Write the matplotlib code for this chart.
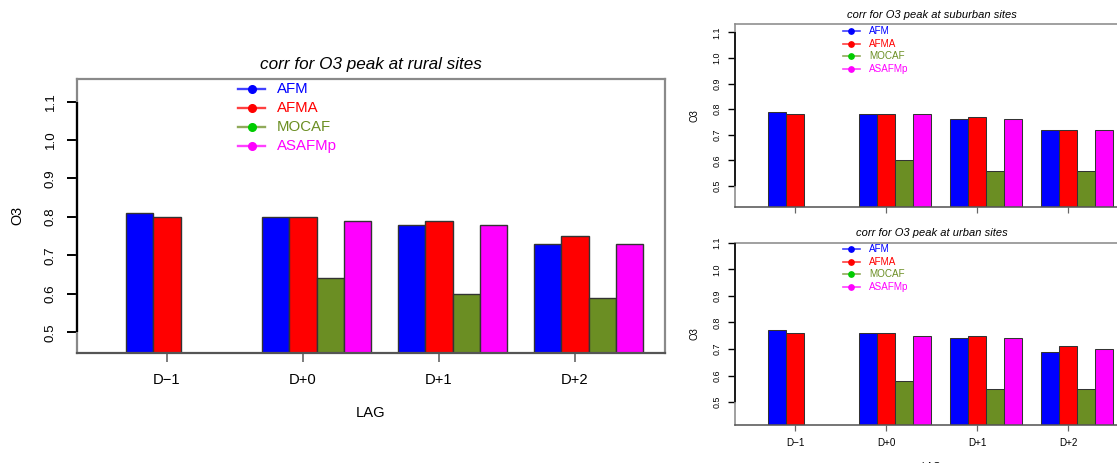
import numpy as np
import matplotlib
matplotlib.use("Agg")
import matplotlib.pyplot as plt
from matplotlib.lines import Line2D

plt.rcParams['font.family'] = ['Liberation Sans', 'DejaVu Sans']

# ---- data -------------------------------------------------------------
lags = ["D\u22121", "D+0", "D+1", "D+2"]
models = ["AFM", "AFMA", "MOCAF", "ASAFMp"]
bar_colors = ["#0000FF", "#FF0000", "#6B8E23", "#FF00FF"]
text_colors = ["#0000FF", "#FF0000", "#6B8E23", "#FF00FF"]
marker_colors = ["#0000FF", "#FF0000", "#00CC00", "#FF00FF"]

rural_afm = [0.81, 0.80, 0.78, 0.73]
rural_afma = [0.80, 0.80, 0.79, 0.75]
rural_mocaf = [np.nan, 0.64, 0.60, 0.59]
rural_asafmp = [np.nan, 0.79, 0.78, 0.73]

suburban_afm = [0.79, 0.78, 0.76, 0.72]
suburban_afma = [0.78, 0.78, 0.77, 0.72]
suburban_mocaf = [np.nan, 0.60, 0.56, 0.56]
suburban_asafmp = [np.nan, 0.78, 0.76, 0.72]

urban_afm = [0.77, 0.76, 0.74, 0.69]
urban_afma = [0.76, 0.76, 0.75, 0.71]
urban_mocaf = [np.nan, 0.58, 0.55, 0.55]
urban_asafmp = [np.nan, 0.75, 0.74, 0.70]

y_ticks = [0.5, 0.6, 0.7, 0.8, 0.9, 1.0, 1.1]

W, H = 1117, 463
fig = plt.figure(figsize=(W / 100, H / 100), dpi=100)


def fx(px):
    return px / W


def fy(py):
    return 1 - py / H


def panel(rect, series, ylim, title, s, title_y, legend_x, legend_rows,
          ylab_x, xlab_y=None, show_xlabels=True, title_size=12.3,
          legend_size=10.8):
    left, top, right, bottom = rect
    ax = fig.add_axes([fx(left), fy(bottom), fx(right - left), (bottom - top) / H])
    ax.set_xlim(-0.8, 20.8)
    ax.set_ylim(*ylim)

    # grouped bars: four per lag, one empty slot between groups
    for si, vals in enumerate(series):
        for gi, v in enumerate(vals):
            if np.isnan(v):
                continue
            ax.bar(1 + 5 * gi + si, v - ylim[0], bottom=ylim[0], width=1.0,
                   align='edge', color=bar_colors[si], edgecolor='#333333',
                   linewidth=0.8 * s + 0.2, zorder=2)

    for sp in ax.spines.values():
        sp.set_color('#8a8a8a')
        sp.set_linewidth(1.4 * s + 0.2)
    ax.spines['bottom'].set_color('#555555')
    ax.spines['left'].set_color('#888888')

    # y axis line spanning the tick range
    ax.plot([0, 0], [y_ticks[0], y_ticks[-1]], color='black',
            lw=1.3 * s + 0.3, transform=ax.get_yaxis_transform(),
            clip_on=False, zorder=5, solid_capstyle='butt')

    ax.set_yticks(y_ticks)
    ax.set_yticklabels([f"{t:.1f}" for t in y_ticks], rotation=90, va='center')
    ax.tick_params(axis='y', length=7.2 * s, width=1.2 * s + 0.2, color='black',
                   pad=7.5 * s, labelsize=9.6 * s)

    ax.set_xticks([2.5 + 5 * g for g in range(len(lags))])
    ax.set_xticklabels(lags if show_xlabels else [""] * len(lags))
    ax.tick_params(axis='x', length=6.5 * s, width=1.0 * s + 0.2, color='#666666',
                   pad=8.0 * s, labelsize=10.6 * s)

    cx = (left + right) / 2
    fig.text(fx(cx), fy(title_y), title, ha='center', va='center',
             style='italic', fontsize=title_size * s)
    fig.text(fx(ylab_x), fy((top + bottom) / 2), "O3", rotation=90,
             ha='center', va='center', fontsize=10.4 * s)
    if xlab_y is not None:
        fig.text(fx(cx), fy(xlab_y), "LAG", ha='center', va='center',
                 fontsize=10.6 * s)

    # legend: line with dot, coloured label
    x0, x1, xt = legend_x
    for i, name in enumerate(models):
        yy = fy(legend_rows[i])
        fig.add_artist(Line2D([fx(x0), fx(x1)], [yy, yy], color=bar_colors[i],
                              lw=1.5 * s + 0.2, alpha=0.75))
        fig.add_artist(Line2D([fx((x0 + x1) / 2)], [yy], marker='o',
                              markersize=5.0 * s + 0.5, color=marker_colors[i],
                              markeredgecolor=marker_colors[i], lw=0))
        fig.text(fx(xt), yy, name, color=text_colors[i], ha='left',
                 va='center', fontsize=legend_size * s)
    return ax


# rural sites (large panel)
panel((77.3, 78.5, 664.7, 352.7),
      [rural_afm, rural_afma, rural_mocaf, rural_asafmp],
      (0.447, 1.160), "corr for O3 peak at rural sites", 1.0,
      title_y=64, legend_x=(238, 265, 277),
      legend_rows=(89, 107.7, 126.7, 145.7), ylab_x=17, xlab_y=413)

# suburban sites
panel((735, 23.7, 1128, 206.7),
      [suburban_afm, suburban_afma, suburban_mocaf, suburban_asafmp],
      (0.419, 1.134), "corr for O3 peak at suburban sites", 0.67,
      title_y=15, legend_x=(842.7, 860, 869.3),
      legend_rows=(31, 43.7, 56.3, 69), ylab_x=695, show_xlabels=False,
      title_size=12.0, legend_size=10.6)

# urban sites
panel((735, 242.7, 1128, 424.7),
      [urban_afm, urban_afma, urban_mocaf, urban_asafmp],
      (0.415, 1.100), "corr for O3 peak at urban sites", 0.67,
      title_y=233, legend_x=(842.7, 860, 869.3),
      legend_rows=(249, 262, 274, 286.7), ylab_x=695, xlab_y=467,
      title_size=12.0, legend_size=10.6)

fig.savefig("out.png", dpi=100)
